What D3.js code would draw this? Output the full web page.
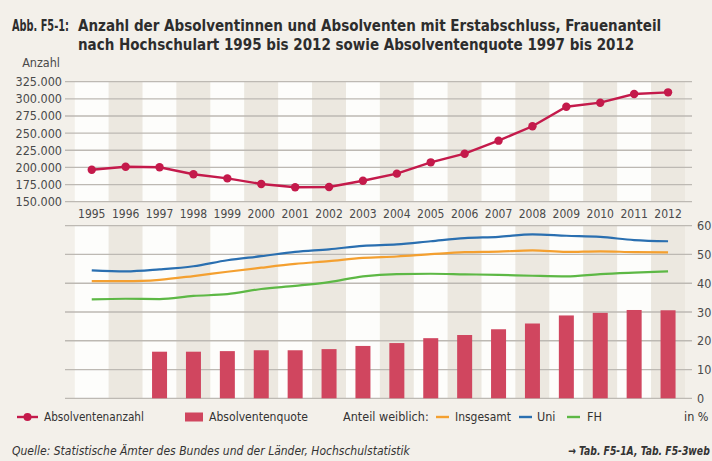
<!DOCTYPE html>
<html>
<head>
<meta charset="utf-8">
<script src="https://cdn.jsdelivr.net/npm/d3@7"></script>
<style>
  body { margin: 0; background: #f3f0ea; }
  svg { display: block; font-family: "DejaVu Sans Condensed", "DejaVu Sans", sans-serif; }
</style>
</head>
<body>
<div id="chart"></div>
<script>
// data
var years = [1995,1996,1997,1998,1999,2000,2001,2002,2003,2004,2005,2006,2007,2008,2009,2010,2011,2012];
var anzahl = [196500,201000,200200,190000,184000,175800,171000,171500,180600,190900,207400,220000,239000,260000,288500,294400,307000,309500];
// Absolventenquote starts in 1997
var quote = [null,null,16.2,16.2,16.4,16.7,16.7,17.1,18.2,19.2,20.9,22.0,24.0,26.0,28.8,29.7,30.7,30.6];
var insgesamt = [40.7,40.7,41.2,42.5,44.0,45.4,46.7,47.7,48.8,49.3,50.1,50.8,51.0,51.4,50.9,51.1,50.8,50.7];
var uni = [44.5,44.1,44.8,45.9,48.0,49.4,50.9,51.8,53.0,53.5,54.6,55.7,56.1,57.0,56.5,56.1,55.0,54.6];
var fh = [34.4,34.6,34.5,35.6,36.2,38.0,39.1,40.4,42.4,43.2,43.3,43.1,42.9,42.6,42.4,43.2,43.7,44.1];
var topTicks = [150000,175000,200000,225000,250000,275000,300000,325000];
var botTicks = [0,10,20,30,40,50,60];

var width = 712, height = 461;
var red = '#c41a4b', barRed = '#d0465f';
var cOrange = '#f4a030', cBlue = '#2a6fb0', cGreen = '#5db845';
var gridCol = '#bdb9b3';

let svg = d3.select('#chart').append('svg')
  .attr('width', width)
  .attr('height', height);

svg.append('rect').attr('width', width).attr('height', height).attr('fill', '#f3f0ea');

// squeeze a text horizontally so it takes w pixels, the original font is narrower
function fitText(parent, str, x0, y0, w, size, weight) {
  let t = parent.append('text').attr('x', 0).attr('y', 0).attr('font-size', size).text(str);
  if (weight) t.attr('font-weight', weight);
  let nat = t.node().getComputedTextLength();
  let s = Math.min(1, w / nat);
  t.attr('transform', `translate(${x0},${y0}) scale(${s},1)`);
  return t;
}

let x = d3.scaleBand().domain(years).range([74.8, 685]).padding(0);
let yTop = d3.scaleLinear().domain([150000, 325000]).range([201.7, 81.7]);
let yBot = d3.scaleLinear().domain([0, 60]).range([398.3, 225.7]);

/** title */
let title = svg.append('g').attr('fill', '#2d2d2d');
fitText(title, 'Abb. F5-1:', 12, 31, 57, 15, 'bold');
fitText(title, 'Anzahl der Absolventinnen und Absolventen mit Erstabschluss, Frauenanteil', 78, 31, 593, 15, 'bold');
fitText(title, 'nach Hochschulart 1995 bis 2012 sowie Absolventenquote 1997 bis 2012', 78, 50, 575, 15, 'bold');

/** column shading for both panels */
function columns(y0, y1) {
  svg.append('g').selectAll('rect')
    .data(years)
    .enter().append('rect')
    .attr('x', d => x(d))
    .attr('width', x.bandwidth())
    .attr('y', y0)
    .attr('height', y1 - y0)
    .attr('fill', (d, i) => i % 2 == 0 ? '#fdfdfb' : '#ece8e0');
}
columns(yTop(325000), yTop(150000));
columns(yBot(60), yBot(0));

/** gridlines + axis labels, top panel */
svg.append('g').selectAll('line')
  .data(topTicks).enter().append('line')
  .attr('x1', 65).attr('x2', 692)
  .attr('y1', d => yTop(d)).attr('y2', d => yTop(d))
  .attr('stroke', gridCol).attr('stroke-width', 1.3);

svg.append('g').selectAll('text')
  .data(topTicks).enter().append('text')
  .attr('x', 62).attr('y', d => yTop(d) + 4.5)
  .attr('text-anchor', 'end')
  .attr('font-size', 12.5).attr('fill', '#4a4a4a')
  .text(d => d3.format(',')(d).replace(/,/g, '.'));

svg.append('text').attr('x', 60).attr('y', 67).attr('text-anchor', 'end')
  .attr('font-size', 12.5).attr('fill', '#4a4a4a').text('Anzahl');

/** year labels */
svg.append('g').selectAll('text')
  .data(years).enter().append('text')
  .attr('x', d => x(d) + x.bandwidth() / 2)
  .attr('y', 218)
  .attr('text-anchor', 'middle')
  .attr('font-size', 12).attr('fill', '#4a4a4a')
  .text(d => d);

/** gridlines + axis labels, bottom panel */
svg.append('g').selectAll('line')
  .data(botTicks).enter().append('line')
  .attr('x1', 65).attr('x2', 692)
  .attr('y1', d => yBot(d)).attr('y2', d => yBot(d))
  .attr('stroke', gridCol).attr('stroke-width', 1.3);

svg.append('g').selectAll('text')
  .data(botTicks).enter().append('text')
  .attr('x', 697).attr('y', d => yBot(d) + 4.5)
  .attr('font-size', 12.5).attr('fill', '#4a4a4a')
  .text(d => d);

/** bars: Absolventenquote */
let bw = 15;
svg.append('g').selectAll('rect')
  .data(years.map((y, i) => ({ year: y, v: quote[i] })).filter(d => d.v != null))
  .enter().append('rect')
  .attr('x', d => x(d.year) + x.bandwidth() / 2 - bw / 2)
  .attr('width', bw)
  .attr('y', d => yBot(d.v))
  .attr('height', d => yBot(0) - yBot(d.v))
  .attr('fill', barRed);

/** share lines */
function shareLine(vals, col) {
  let line = d3.line()
    .x((d, i) => x(years[i]) + x.bandwidth() / 2)
    .y(d => yBot(d))
    .curve(d3.curveMonotoneX);
  svg.append('path').datum(vals)
    .attr('d', line)
    .attr('fill', 'none')
    .attr('stroke', col)
    .attr('stroke-width', 2.2);
}
shareLine(fh, cGreen);
shareLine(insgesamt, cOrange);
shareLine(uni, cBlue);

/** Absolventenanzahl line */
let topLine = d3.line()
  .x((d, i) => x(years[i]) + x.bandwidth() / 2)
  .y(d => yTop(d));
svg.append('path').datum(anzahl)
  .attr('d', topLine)
  .attr('fill', 'none')
  .attr('stroke', red)
  .attr('stroke-width', 2.4);
svg.append('g').selectAll('circle')
  .data(anzahl).enter().append('circle')
  .attr('cx', (d, i) => x(years[i]) + x.bandwidth() / 2)
  .attr('cy', d => yTop(d))
  .attr('r', 4.2)
  .attr('fill', red);

/** legend */
let lg = svg.append('g').attr('fill', '#333');
let ly = 421, lm = 417;
lg.append('line').attr('x1', 17).attr('x2', 38).attr('y1', lm).attr('y2', lm)
  .attr('stroke', red).attr('stroke-width', 2.4);
lg.append('circle').attr('cx', 27.5).attr('cy', lm).attr('r', 4).attr('fill', red);
fitText(lg, 'Absolventenanzahl', 44, ly, 100, 12.5);
lg.append('rect').attr('x', 185).attr('y', lm - 4.5).attr('width', 18).attr('height', 9).attr('fill', barRed);
fitText(lg, 'Absolventenquote', 209, ly, 99, 12.5);
fitText(lg, 'Anteil weiblich:', 343, ly, 87, 12.5);
let lgItems = [
  { col: cOrange, x0: 436 },
  { col: cBlue, x0: 519 },
  { col: cGreen, x0: 567 }
];
for (let it of lgItems) {
  lg.append('line').attr('x1', it.x0).attr('x2', it.x0 + 13).attr('y1', lm).attr('y2', lm)
    .attr('stroke', it.col).attr('stroke-width', 2.4);
}
fitText(lg, 'Insgesamt', 455, ly, 56, 12.5);
fitText(lg, 'Uni', 537, ly, 20, 12.5);
fitText(lg, 'FH', 587, ly, 15, 12.5);
fitText(lg, 'in %', 684, ly, 26, 12.5);

/** footer */
let ft = svg.append('g').attr('fill', '#333').attr('font-style', 'italic');
fitText(ft, 'Quelle: Statistische Ämter des Bundes und der Länder, Hochschulstatistik', 12, 455, 405, 12);
fitText(ft, '→ Tab. F5-1A, Tab. F5-3web', 568, 455, 142, 12, 'bold');
</script>
</body>
</html>
